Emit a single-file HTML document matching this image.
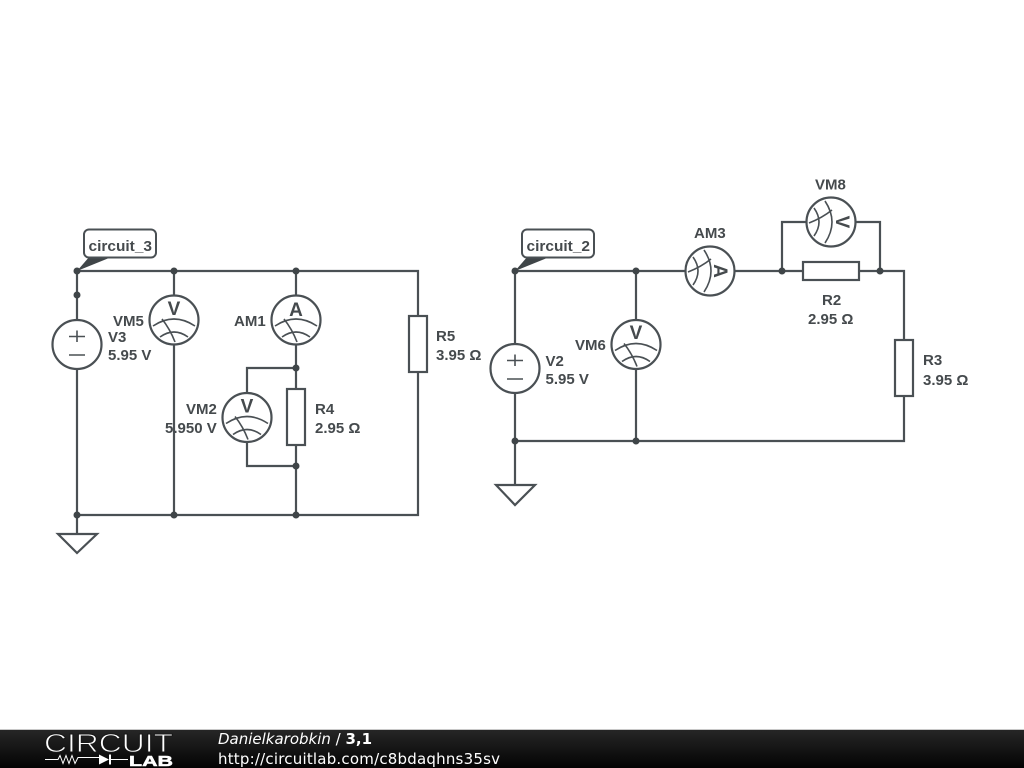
<!DOCTYPE html>
<html><head><meta charset="utf-8"><style>
html,body{margin:0;padding:0;background:#fff;width:1024px;height:768px;overflow:hidden}
svg{display:block}
.w{fill:none;stroke:#4a5054;stroke-width:2.2}
.t{font-family:"Liberation Sans",sans-serif;font-weight:bold;font-size:15px;fill:#454a4d}
.m{font-family:"Liberation Sans",sans-serif;font-weight:bold;font-size:19px;fill:#454a4d;text-anchor:middle}
.f{font-family:"DejaVu Sans",sans-serif;font-size:15px;fill:#fff}
</style></head><body>
<svg width="1024" height="768" viewBox="0 0 1024 768" xmlns="http://www.w3.org/2000/svg">
<defs>
<linearGradient id="g" x1="0" y1="0" x2="0" y2="1"><stop offset="0" stop-color="#262626"/><stop offset="1" stop-color="#030303"/></linearGradient>
<g id="meter"><circle r="24.5" fill="#fff" stroke="#4a5054" stroke-width="2.2"/>
<path d="M-21,6 Q0,-8 21,6 M-14,17 Q0,7 14,17 M-12,-1 Q-4,9 1,22" fill="none" stroke="#4a5054" stroke-width="1.6"/></g>
<g id="src"><circle r="24.5" fill="#fff" stroke="#4a5054" stroke-width="2.2"/>
<path d="M-8,-8 H8 M0,-14 V-2.5 M-8,10.500 H8" fill="none" stroke="#4a5054" stroke-width="1.6"/></g>
</defs>
<rect width="1024" height="768" fill="#fff"/>

<!-- left circuit -->
<path class="w" d="M77,271 H418 V515 H77 M77,271 V534 M174,271 V515 M296,271 V389 M296,445 V515 M296,368 H247 V466 H296"/>
<path class="w" d="M58,534 H97 L77,553 Z" style="fill:#fff"/>
<rect class="w" x="287" y="389" width="18" height="56" style="fill:#fff"/>
<rect class="w" x="409" y="316" width="18" height="56" style="fill:#fff"/>
<use href="#src" x="77" y="344.500"/>
<use href="#meter" x="174" y="320"/>
<use href="#meter" x="296" y="320"/>
<use href="#meter" x="247" y="417.500"/>
<text class="m" x="174" y="315">V</text>
<text class="m" x="296" y="316">A</text>
<text class="m" x="247" y="412.500">V</text>
<g fill="#3f4548"><circle cx="77" cy="271" r="3.500"/><circle cx="174" cy="271" r="3.500"/><circle cx="296" cy="271" r="3.500"/><circle cx="77" cy="295" r="3.500"/><circle cx="296" cy="368" r="3.500"/><circle cx="296" cy="466" r="3.500"/><circle cx="174" cy="515" r="3.500"/><circle cx="296" cy="515" r="3.500"/><circle cx="77" cy="515" r="3.500"/></g>
<path d="M77,271 L90,256 H114 Z" fill="#3f4548"/>
<rect x="84" y="229.500" width="72" height="28" rx="5" fill="#fff" stroke="#4a5054" stroke-width="2"/>
<text class="t" x="88.500" y="251" textLength="63.500" lengthAdjust="spacingAndGlyphs">circuit_3</text>
<text class="t" x="113" y="326">VM5</text>
<text class="t" x="108" y="342">V3</text>
<text class="t" x="108" y="360">5.95 V</text>
<text class="t" x="234" y="326">AM1</text>
<text class="t" x="186" y="414">VM2</text>
<text class="t" x="165" y="433">5.950 V</text>
<text class="t" x="315" y="414">R4</text>
<text class="t" x="315" y="433">2.95 Ω</text>
<text class="t" x="436" y="341">R5</text>
<text class="t" x="436" y="360">3.95 Ω</text>

<!-- right circuit -->
<path class="w" d="M515,271 V485 M515,271 H904 V441 H515 M636,271 V441 M782,271 V222 H880 V271"/>
<path class="w" d="M496,485 H535 L515,505 Z" style="fill:#fff"/>
<rect class="w" x="803" y="262" width="56" height="18" style="fill:#fff"/>
<rect class="w" x="895" y="340" width="18" height="56" style="fill:#fff"/>
<use href="#src" x="515" y="368.500"/>
<use href="#meter" x="636" y="344.500"/>
<use href="#meter" transform="translate(710,271) rotate(90)"/>
<use href="#meter" transform="translate(831,222) rotate(90)"/>
<text class="m" x="636" y="339">V</text>
<text class="m" transform="translate(714,271) rotate(90)">A</text>
<text class="m" transform="translate(836,222) rotate(90)">V</text>
<g fill="#3f4548"><circle cx="515" cy="271" r="3.500"/><circle cx="636" cy="271" r="3.500"/><circle cx="782" cy="271" r="3.500"/><circle cx="880" cy="271" r="3.500"/><circle cx="515" cy="441" r="3.500"/><circle cx="636" cy="441" r="3.500"/></g>
<path d="M515,271 L528,256 H552 Z" fill="#3f4548"/>
<rect x="522" y="229.500" width="72" height="28" rx="5" fill="#fff" stroke="#4a5054" stroke-width="2"/>
<text class="t" x="526.500" y="251" textLength="63.500" lengthAdjust="spacingAndGlyphs">circuit_2</text>
<text class="t" x="545.500" y="366">V2</text>
<text class="t" x="545.500" y="384">5.95 V</text>
<text class="t" x="575" y="350">VM6</text>
<text class="t" x="694" y="238">AM3</text>
<text class="t" x="815" y="189.500">VM8</text>
<text class="t" x="822" y="305">R2</text>
<text class="t" x="808" y="324">2.95 Ω</text>
<text class="t" x="923" y="365">R3</text>
<text class="t" x="923" y="385">3.95 Ω</text>

<!-- footer -->
<rect y="729" width="1024" height="1" fill="#c8c8c8"/>
<rect y="730" width="1024" height="38" fill="url(#g)"/>
<text x="44" y="752" font-family="Liberation Sans,sans-serif" font-size="26" fill="#fff" stroke="#181818" stroke-width="0.9" textLength="129" lengthAdjust="spacingAndGlyphs">CIRCUIT</text>
<path d="M45,759.500 H58 L60,755.500 L63,763.500 L66,755.500 L69,763.500 L72,755.500 L75,763.500 L78,757.500 H99 M110,759.500 H128" fill="none" stroke="#fff" stroke-width="1"/>
<path d="M99,754.500 L109,759.500 L99,764.500 Z" fill="#fff"/><rect x="109" y="754.500" width="2" height="10" fill="#fff"/>
<text x="129" y="766" font-family="Liberation Sans,sans-serif" font-size="14.5" font-weight="bold" fill="#fff" stroke="#fff" stroke-width="0.5" textLength="44" lengthAdjust="spacingAndGlyphs">LAB</text>
<text class="f" x="218" y="744" textLength="154"><tspan font-style="italic">Danielkarobkin</tspan> / <tspan font-weight="bold">3,1</tspan></text>
<text class="f" x="218" y="764" textLength="282">http://circuitlab.com/c8bdaqhns35sv</text>
</svg>
</body></html>
